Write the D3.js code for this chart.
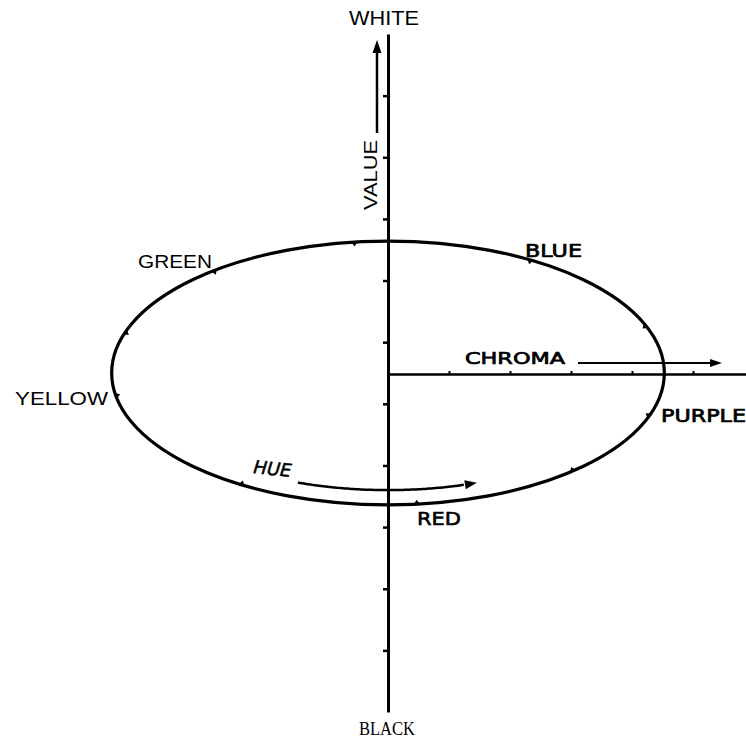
<!DOCTYPE html>
<html><head><meta charset="utf-8">
<script src="https://cdn.jsdelivr.net/npm/d3@7"></script>
<style>body{margin:0;background:#fff}svg{display:block}</style>
</head><body><svg id="chart" width="746" height="740"></svg>
<script>
// ---- data ----
const valueTicks = [1, 2, 3, 4, 5, 6, 7, 8, 9, 10];
const chromaTicks = [1, 2, 3, 4, 5];
const hueTickAngles = [-97, -129, -162, 170, 122, 84, 48, 19, -21, -59];
const hueLabels = ["GREEN", "BLUE", "PURPLE", "RED", "YELLOW"];
const axisLabels = ["WHITE", "BLACK", "VALUE", "CHROMA", "HUE"];
const valueDomain = [0, 11];
const chromaDomain = [0, 6];
const hueCircle = { chroma: 4.53, value: 2.14, centerValue: 5.5 };
const hueArrowRing = { chroma: 4.18, value: 1.9, from: 110.7, to: 69.6 };

// ---- scales ----
const svg = d3.select("#chart");
const x = d3.scaleLinear().domain(chromaDomain).range([388, 754]);
const y = d3.scaleLinear().domain(valueDomain).range([712, 34]);
const cx = x(0), cy = y(hueCircle.centerValue);
const rx = x(hueCircle.chroma) - x(0);
const ry = y(hueCircle.centerValue) - y(hueCircle.centerValue + hueCircle.value);
const ink = "#000";

// value axis
const vAxis = svg.append("g").attr("transform", `translate(${cx},0)`)
  .call(d3.axisLeft(y).tickValues(valueTicks).tickSize(5).tickSizeOuter(0).tickFormat(""));
vAxis.select(".domain").attr("stroke", ink).attr("stroke-width", 3);
vAxis.selectAll(".tick line").attr("stroke", ink).attr("stroke-width", 2.5);

// chroma axis
const cAxis = svg.append("g").attr("transform", `translate(0,${cy + 1})`)
  .call(d3.axisTop(x).tickValues(chromaTicks).tickSize(3).tickSizeOuter(0).tickFormat(""));
cAxis.select(".domain").attr("stroke", ink).attr("stroke-width", 2.6);
cAxis.selectAll(".tick line").attr("stroke", ink).attr("stroke-width", 2);

// hue ellipse
svg.append("ellipse").attr("cx", cx).attr("cy", cy).attr("rx", rx).attr("ry", ry)
  .attr("fill", "none").attr("stroke", ink).attr("stroke-width", 3.2);

// hue ticks: small inward triangles
const rad = d => d * Math.PI / 180;
svg.append("g").selectAll("path").data(hueTickAngles).join("path")
  .attr("d", a => {
    const t = rad(a);
    const px = cx + rx * Math.cos(t), py = cy + ry * Math.sin(t);
    let tx = -rx * Math.sin(t), ty = ry * Math.cos(t);
    const tl = Math.hypot(tx, ty); tx /= tl; ty /= tl;
    let nx = -Math.cos(t) / rx, ny = -Math.sin(t) / ry;
    const nl = Math.hypot(nx, ny); nx /= nl; ny /= nl;
    const s = 3;
    return `M${px - tx * s},${py - ty * s}L${px + tx * s},${py + ty * s}L${px + nx * 4.5},${py + ny * 4.5}Z`;
  })
  .attr("fill", ink);

function arrowHead(tipX, tipY, dx, dy, len, half) {
  const l = Math.hypot(dx, dy); dx /= l; dy /= l;
  const bx = tipX - dx * len, by = tipY - dy * len;
  return `M${tipX},${tipY}L${bx - dy * half},${by + dx * half}L${bx + dy * half},${by - dx * half}Z`;
}

// value arrow
svg.append("line").attr("x1", 377).attr("y1", 133).attr("x2", 377).attr("y2", 50)
  .attr("stroke", ink).attr("stroke-width", 2.5);
svg.append("path").attr("d", arrowHead(377, 40, 0, -1, 13, 4.5)).attr("fill", ink);

// chroma arrow
svg.append("line").attr("x1", 578).attr("y1", 363).attr("x2", 712).attr("y2", 363)
  .attr("stroke", ink).attr("stroke-width", 2);
svg.append("path").attr("d", arrowHead(722, 363, 1, 0, 12, 4)).attr("fill", ink);

// hue arrow (arc)
const arx = x(hueArrowRing.chroma) - x(0);
const ary = y(hueCircle.centerValue) - y(hueCircle.centerValue + hueArrowRing.value);
const arcPts = d3.range(hueArrowRing.from, hueArrowRing.to - 0.01, -0.5)
  .map(a => [cx + arx * Math.cos(rad(a)), cy + ary * Math.sin(rad(a))]);
svg.append("path").attr("d", d3.line()(arcPts.slice(0, -6)))
  .attr("fill", "none").attr("stroke", ink).attr("stroke-width", 2.5);
{
  const tEnd = rad(hueArrowRing.to);
  const tipX = cx + arx * Math.cos(tEnd), tipY = cy + ary * Math.sin(tEnd);
  const dx = arx * Math.sin(tEnd), dy = -ary * Math.cos(tEnd);
  svg.append("path").attr("d", arrowHead(tipX, tipY, dx, dy, 12, 4.5)).attr("fill", ink);
}

// ---- labels ----
function label(txt, xx, yy, opts) {
  const t = svg.append("text").attr("x", xx).attr("y", yy).text(txt)
    .attr("font-family", opts.family || "'Liberation Sans', Arial, sans-serif")
    .attr("font-size", opts.size).attr("fill", ink);
  if (opts.anchor) t.attr("text-anchor", opts.anchor);
  if (opts.len) t.attr("textLength", opts.len).attr("lengthAdjust", "spacingAndGlyphs");
  if (opts.weight) t.attr("font-weight", opts.weight);
  if (opts.style) t.attr("font-style", opts.style);
  if (opts.stroke) t.attr("stroke", ink).attr("stroke-width", opts.stroke);
  if (opts.transform) t.attr("transform", opts.transform);
  return t;
}
label(axisLabels[0], 349, 25, { size: 20, len: 70 });
label(axisLabels[1], 359, 735, { size: 18, len: 56, family: "'Liberation Serif', 'Times New Roman', serif" });
label(axisLabels[2], 0, 0, { size: 19, len: 70, anchor: "middle", transform: "translate(377,175) rotate(-90)" });
const hand = "'DejaVu Sans', sans-serif";
label(axisLabels[3], 465, 364, { size: 16, len: 100, family: hand, stroke: 0.7 });
label(axisLabels[4], 253, 473, { size: 18, len: 38, family: hand, style: "italic", stroke: 0.5, transform: "rotate(6,253,473)" });
label(hueLabels[0], 138, 268, { size: 18, len: 74 });
label(hueLabels[1], 525, 257, { size: 17, len: 57, family: hand, stroke: 0.7 });
label(hueLabels[2], 661, 422, { size: 17, len: 85, family: hand, stroke: 0.7 });
label(hueLabels[3], 417, 525, { size: 18, len: 44, family: hand, stroke: 0.6 });
label(hueLabels[4], 15, 405, { size: 18, len: 93 });
</script></body></html>
